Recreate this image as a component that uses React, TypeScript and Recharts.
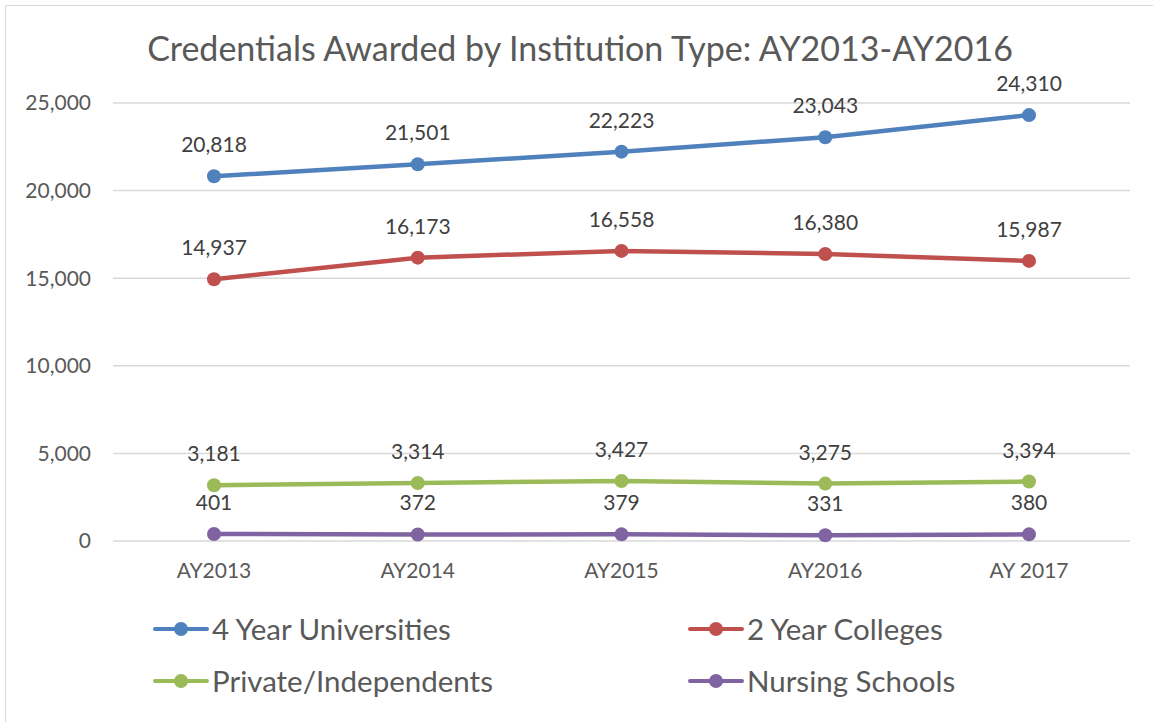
import { LineChart, Line, XAxis, YAxis, CartesianGrid, LabelList } from "recharts";

const years = ["AY2013", "AY2014", "AY2015", "AY2016", "AY 2017"];
const fourYear = [20818, 21501, 22223, 23043, 24310];
const twoYear = [14937, 16173, 16558, 16380, 15987];
const privateInd = [3181, 3314, 3427, 3275, 3394];
const nursing = [401, 372, 379, 331, 380];
const yTicks = [0, 5000, 10000, 15000, 20000, 25000];

const series = [
  { key: "four", name: "4 Year Universities", color: "#4F81BD", values: fourYear },
  { key: "two", name: "2 Year Colleges", color: "#C0504D", values: twoYear },
  { key: "priv", name: "Private/Independents", color: "#9BBB59", values: privateInd },
  { key: "nurse", name: "Nursing Schools", color: "#8064A2", values: nursing },
];

const data = years.map((y, i) => {
  const row: any = { year: y };
  series.forEach((s) => (row[s.key] = s.values[i]));
  return row;
});

const font = "Lato, 'Open Sans', sans-serif";
const fmt = (v: any) => Number(v).toLocaleString("en-US");

// legend drawn by hand: two columns, two rows, in series order
function LegendBox() {
  const cols = [153, 688];
  const rows = [629, 681];
  return (
    <>
      {series.map((s, i) => (
        <div
          key={s.key}
          style={{
            position: "absolute",
            left: cols[i % 2],
            top: rows[Math.floor(i / 2)] - 20,
            height: 40,
            display: "flex",
            alignItems: "center",
          }}
        >
          <svg width={56} height={16} style={{ marginRight: 3 }}>
            <line x1={2} y1={8} x2={54} y2={8} stroke={s.color} strokeWidth={4} strokeLinecap="round" />
            <circle cx={28} cy={8} r={7} fill={s.color} />
          </svg>
          <span style={{ fontFamily: font, fontSize: 29.5, color: "#595959", lineHeight: "40px" }}>{s.name}</span>
        </div>
      ))}
    </>
  );
}

export default function App() {
  return (
    <div style={{ position: "fixed", left: 0, top: 0, width: 1153, height: 722, background: "#fff", overflow: "hidden" }}>
      <div style={{ position: "absolute", left: 5, top: 5, width: 1200, height: 800, border: "1.5px solid #D9D9D9" }} />
      <div
        style={{
          position: "absolute",
          left: 0,
          top: 27,
          width: 1160,
          textAlign: "center",
          fontFamily: font,
          fontSize: 34,
          color: "#595959",
        }}
      >
        Credentials Awarded by Institution Type: AY2013-AY2016
      </div>
      <div style={{ position: "absolute", left: 0, top: 0 }}>
        <LineChart width={1153} height={722} data={data} margin={{ top: 103, right: 23, left: 13, bottom: 0 }}>
          <CartesianGrid vertical={false} stroke="#D9D9D9" strokeWidth={1.5} />
          <XAxis
            dataKey="year"
            axisLine={false}
            tickLine={false}
            tickSize={0}
            tickMargin={22}
            height={181}
            padding={{ left: 101, right: 101 }}
            tick={{ fontFamily: font, fontSize: 21, fill: "#595959" }}
          />
          <YAxis
            width={100}
            domain={[0, 25000]}
            ticks={yTicks}
            axisLine={false}
            tickLine={false}
            tickSize={0}
            tickMargin={22}
            tickFormatter={fmt}
            tick={{ fontFamily: font, fontSize: 21, fill: "#595959" }}
          />
          {series.map((s) => (
            <Line
              key={s.key}
              dataKey={s.key}
              name={s.name}
              stroke={s.color}
              strokeWidth={4.5}
              dot={{ r: 7, fill: s.color, stroke: s.color, strokeWidth: 0 }}
              activeDot={false}
              isAnimationActive={false}
            >
              <LabelList
                dataKey={s.key}
                position="top"
                offset={24}
                formatter={fmt}
                fontFamily={font}
                fontSize={21}
                fill="#404040"
              />
            </Line>
          ))}
        </LineChart>
      </div>
      <LegendBox />
    </div>
  );
}
